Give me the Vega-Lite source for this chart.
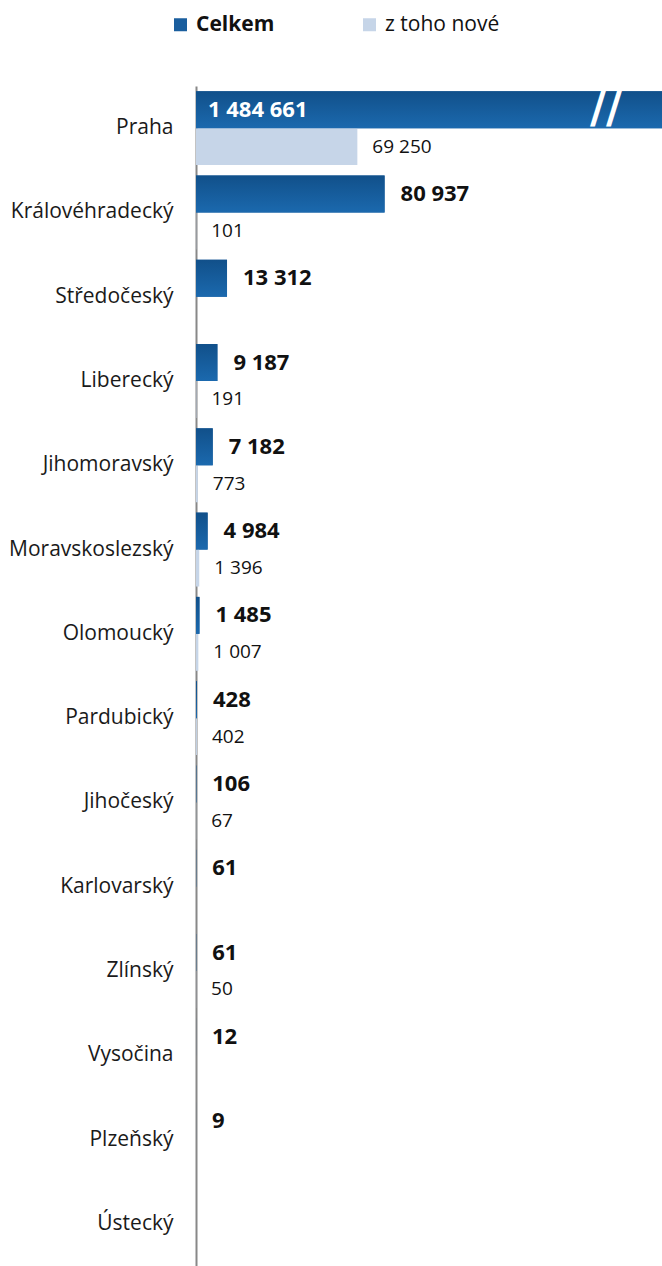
{
  "$schema": "https://vega.github.io/schema/vega-lite/v6.json",
  "width": 466,
  "height": 1180,
  "autosize": {"type": "none"},
  "padding": {"left": 196, "top": 86, "right": 0, "bottom": 0},
  "config": {
    "view": {"stroke": null},
    "font": "Open Sans",
    "locale": {"number": {"decimal": ",", "thousands": " ", "grouping": [3], "currency": ["", " Kč"]}}
  },
  "data": {
    "values": [
      {"kraj": "Praha", "serie": "Celkem", "hodnota": 1484661},
      {"kraj": "Praha", "serie": "z toho nové", "hodnota": 69250},
      {"kraj": "Královéhradecký", "serie": "Celkem", "hodnota": 80937},
      {"kraj": "Královéhradecký", "serie": "z toho nové", "hodnota": 101},
      {"kraj": "Středočeský", "serie": "Celkem", "hodnota": 13312},
      {"kraj": "Středočeský", "serie": "z toho nové", "hodnota": null},
      {"kraj": "Liberecký", "serie": "Celkem", "hodnota": 9187},
      {"kraj": "Liberecký", "serie": "z toho nové", "hodnota": 191},
      {"kraj": "Jihomoravský", "serie": "Celkem", "hodnota": 7182},
      {"kraj": "Jihomoravský", "serie": "z toho nové", "hodnota": 773},
      {"kraj": "Moravskoslezský", "serie": "Celkem", "hodnota": 4984},
      {"kraj": "Moravskoslezský", "serie": "z toho nové", "hodnota": 1396},
      {"kraj": "Olomoucký", "serie": "Celkem", "hodnota": 1485},
      {"kraj": "Olomoucký", "serie": "z toho nové", "hodnota": 1007},
      {"kraj": "Pardubický", "serie": "Celkem", "hodnota": 428},
      {"kraj": "Pardubický", "serie": "z toho nové", "hodnota": 402},
      {"kraj": "Jihočeský", "serie": "Celkem", "hodnota": 106},
      {"kraj": "Jihočeský", "serie": "z toho nové", "hodnota": 67},
      {"kraj": "Karlovarský", "serie": "Celkem", "hodnota": 61},
      {"kraj": "Karlovarský", "serie": "z toho nové", "hodnota": null},
      {"kraj": "Zlínský", "serie": "Celkem", "hodnota": 61},
      {"kraj": "Zlínský", "serie": "z toho nové", "hodnota": 50},
      {"kraj": "Vysočina", "serie": "Celkem", "hodnota": 12},
      {"kraj": "Vysočina", "serie": "z toho nové", "hodnota": null},
      {"kraj": "Plzeňský", "serie": "Celkem", "hodnota": 9},
      {"kraj": "Plzeňský", "serie": "z toho nové", "hodnota": null},
      {"kraj": "Ústecký", "serie": "Celkem", "hodnota": null},
      {"kraj": "Ústecký", "serie": "z toho nové", "hodnota": null}
    ]
  },
  "encoding": {
    "y": {
      "field": "kraj",
      "type": "nominal",
      "sort": null,
      "scale": {
        "domain": ["Praha", "Královéhradecký", "Středočeský", "Liberecký", "Jihomoravský", "Moravskoslezský", "Olomoucký", "Pardubický", "Jihočeský", "Karlovarský", "Zlínský", "Vysočina", "Plzeňský", "Ústecký"],
        "paddingInner": 0.123,
        "paddingOuter": 0.0615
      },
      "axis": {
        "title": null,
        "domainColor": "#888888",
        "domainWidth": 2,
        "ticks": false,
        "grid": false,
        "labelPadding": 23,
        "labelFontSize": 21,
        "labelFont": "Open Sans",
        "labelColor": "#1a1a1a"
      }
    },
    "yOffset": {
      "field": "serie",
      "type": "nominal",
      "scale": {"domain": ["Celkem", "z toho nové"], "paddingInner": 0, "paddingOuter": 0}
    }
  },
  "layer": [
    {
      "mark": {"type": "bar", "clip": true},
      "encoding": {
        "x": {"field": "hodnota", "type": "quantitative", "scale": {"domain": [0, 200000], "nice": false, "zero": true}, "axis": null},
        "color": {
          "field": "serie",
          "type": "nominal",
          "scale": {"domain": ["Celkem", "z toho nové"], "range": ["#1a5e9e", "#c6d5e8"]},
          "legend": {
            "title": null,
            "orient": "none",
            "legendX": -26,
            "legendY": -72,
            "direction": "horizontal",
            "symbolType": "square",
            "symbolSize": 169,
            "symbolStrokeWidth": 0,
            "labelFontSize": 21,
            "labelFont": "Open Sans",
            "labelColor": "#111111",
            "labelOffset": 5,
            "columnPadding": 84,
            "encode": {
              "labels": {"update": {"fontWeight": {"signal": "datum.label === 'Celkem' ? 'bold' : 'normal'"}}}
            }
          }
        }
      }
    },
    {
      "transform": [{"filter": "datum.serie === 'Celkem'"}],
      "mark": {
        "type": "bar",
        "clip": true,
        "color": {
          "gradient": "linear",
          "x1": 0, "y1": 0, "x2": 0, "y2": 1,
          "stops": [{"offset": 0, "color": "#11508a"}, {"offset": 1, "color": "#1b69ae"}]
        }
      },
      "encoding": {
        "x": {"field": "hodnota", "type": "quantitative"}
      }
    },
    {
      "transform": [{"filter": "datum.serie === 'Celkem' && datum.kraj === 'Praha'"}],
      "mark": {"type": "text", "text": "//", "color": "white", "fontSize": 44, "fontWeight": "bold", "font": "DejaVu Sans", "align": "center", "baseline": "middle"},
      "encoding": {
        "x": {"datum": 176000, "type": "quantitative"}
      }
    },
    {
      "transform": [{"filter": "datum.serie === 'Celkem' && datum.kraj === 'Praha'"}],
      "mark": {"type": "text", "align": "left", "baseline": "middle", "dx": 12, "fontSize": 22, "fontWeight": "bold", "color": "white", "font": "Open Sans"},
      "encoding": {
        "x": {"datum": 0, "type": "quantitative"},
        "text": {"field": "hodnota", "type": "quantitative", "format": ",d"}
      }
    },
    {
      "transform": [{"filter": "datum.serie === 'Celkem' && datum.kraj !== 'Praha' && isValid(datum.hodnota)"}],
      "mark": {"type": "text", "align": "left", "baseline": "middle", "dx": 16, "fontSize": 22, "fontWeight": "bold", "color": "#111111", "font": "Open Sans"},
      "encoding": {
        "x": {"field": "hodnota", "type": "quantitative"},
        "text": {"field": "hodnota", "type": "quantitative", "format": ",d"}
      }
    },
    {
      "transform": [{"filter": "datum.serie === 'z toho nové' && isValid(datum.hodnota)"}],
      "mark": {"type": "text", "align": "left", "baseline": "middle", "dx": 15, "fontSize": 19, "color": "#111111", "font": "Open Sans"},
      "encoding": {
        "x": {"field": "hodnota", "type": "quantitative"},
        "text": {"field": "hodnota", "type": "quantitative", "format": ",d"}
      }
    }
  ]
}
